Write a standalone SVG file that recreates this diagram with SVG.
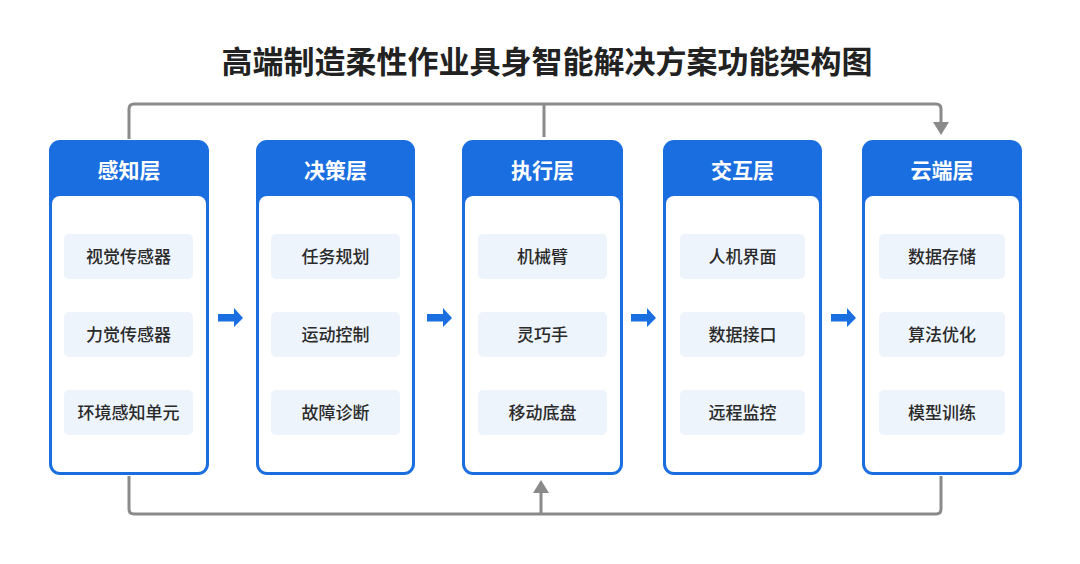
<svg xmlns="http://www.w3.org/2000/svg" width="1080" height="564" viewBox="0 0 1080 564">
<defs>
<style>
.title{font-family:"Noto Sans CJK SC","Noto Sans",sans-serif;font-size:31px;font-weight:700;fill:#222;}
.hd{font-family:"Noto Sans CJK SC","Noto Sans",sans-serif;font-size:21px;font-weight:700;fill:#fff;}
.it{font-family:"Noto Sans CJK SC","Noto Sans",sans-serif;font-size:17px;font-weight:500;fill:#2a2a2a;}
.outer{fill:#1a6ee0;stroke:#1a6ee0;stroke-width:2;}
.inner{fill:#fff;}
.item{fill:#eef4fc;}
.conn{fill:none;stroke:#8a8a8a;stroke-width:3;stroke-linejoin:round;}
.ah{fill:#8a8a8a;}
.blue{fill:#1a6ee0;}
</style>
</defs>
<rect width="1080" height="564" fill="#ffffff"/>
<text class="title" x="547" y="73" text-anchor="middle">高端制造柔性作业具身智能解决方案功能架构图</text>

<g id="connectors">
<path class="conn" d="M129 139 V109 Q129 104 134 104 H936 Q941 104 941 109 V124"/>
<line class="conn" x1="544" y1="104" x2="544" y2="137"/>
<polygon class="ah" points="933,122 949,122 941,135"/>
<path class="conn" d="M129 476 V509 Q129 514 134 514 H936 Q941 514 941 509 V476"/>
<line class="conn" x1="541" y1="514" x2="541" y2="490"/>
<polygon class="ah" points="533,493 549,493 541,480"/>
<polygon class="blue" points="218,314 234,314 234,308 243,318 234,327 234,321.5 218,321.5"/>
<polygon class="blue" points="427,314 443,314 443,308 452,318 443,327 443,321.5 427,321.5"/>
<polygon class="blue" points="631,314 647,314 647,308 656,318 647,327 647,321.5 631,321.5"/>
<polygon class="blue" points="831,314 847,314 847,308 856,318 847,327 847,321.5 831,321.5"/>
</g>

<g id="layer-perception">
<rect class="outer" x="50" y="141" width="158" height="333" rx="10"/>
<rect class="inner" x="52" y="196" width="154" height="276" rx="8"/>
<text class="hd" x="129" y="177.5" text-anchor="middle">感知层</text>
<rect class="item" x="64" y="234" width="129" height="45" rx="5"/>
<text class="it" x="128.5" y="262.5" text-anchor="middle">视觉传感器</text>
<rect class="item" x="64" y="312" width="129" height="45" rx="5"/>
<text class="it" x="128.5" y="340.5" text-anchor="middle">力觉传感器</text>
<rect class="item" x="64" y="390" width="129" height="45" rx="5"/>
<text class="it" x="128.5" y="418.5" text-anchor="middle">环境感知单元</text>
</g>

<g id="layer-decision">
<rect class="outer" x="257" y="141" width="157" height="333" rx="10"/>
<rect class="inner" x="259" y="196" width="153" height="276" rx="8"/>
<text class="hd" x="335.5" y="177.5" text-anchor="middle">决策层</text>
<rect class="item" x="271" y="234" width="129" height="45" rx="5"/>
<text class="it" x="335.5" y="262.5" text-anchor="middle">任务规划</text>
<rect class="item" x="271" y="312" width="129" height="45" rx="5"/>
<text class="it" x="335.5" y="340.5" text-anchor="middle">运动控制</text>
<rect class="item" x="271" y="390" width="129" height="45" rx="5"/>
<text class="it" x="335.5" y="418.5" text-anchor="middle">故障诊断</text>
</g>

<g id="layer-execution">
<rect class="outer" x="463" y="141" width="159" height="333" rx="10"/>
<rect class="inner" x="465" y="196" width="155" height="276" rx="8"/>
<text class="hd" x="542.5" y="177.5" text-anchor="middle">执行层</text>
<rect class="item" x="478" y="234" width="129" height="45" rx="5"/>
<text class="it" x="542.5" y="262.5" text-anchor="middle">机械臂</text>
<rect class="item" x="478" y="312" width="129" height="45" rx="5"/>
<text class="it" x="542.5" y="340.5" text-anchor="middle">灵巧手</text>
<rect class="item" x="478" y="390" width="129" height="45" rx="5"/>
<text class="it" x="542.5" y="418.5" text-anchor="middle">移动底盘</text>
</g>

<g id="layer-interaction">
<rect class="outer" x="664" y="141" width="157" height="333" rx="10"/>
<rect class="inner" x="666" y="196" width="153" height="276" rx="8"/>
<text class="hd" x="742.5" y="177.5" text-anchor="middle">交互层</text>
<rect class="item" x="680" y="234" width="125" height="45" rx="5"/>
<text class="it" x="742.5" y="262.5" text-anchor="middle">人机界面</text>
<rect class="item" x="680" y="312" width="125" height="45" rx="5"/>
<text class="it" x="742.5" y="340.5" text-anchor="middle">数据接口</text>
<rect class="item" x="680" y="390" width="125" height="45" rx="5"/>
<text class="it" x="742.5" y="418.5" text-anchor="middle">远程监控</text>
</g>

<g id="layer-cloud">
<rect class="outer" x="863" y="141" width="158" height="333" rx="10"/>
<rect class="inner" x="865" y="196" width="154" height="276" rx="8"/>
<text class="hd" x="942" y="177.5" text-anchor="middle">云端层</text>
<rect class="item" x="879" y="234" width="126" height="45" rx="5"/>
<text class="it" x="942" y="262.5" text-anchor="middle">数据存储</text>
<rect class="item" x="879" y="312" width="126" height="45" rx="5"/>
<text class="it" x="942" y="340.5" text-anchor="middle">算法优化</text>
<rect class="item" x="879" y="390" width="126" height="45" rx="5"/>
<text class="it" x="942" y="418.5" text-anchor="middle">模型训练</text>
</g>
</svg>
